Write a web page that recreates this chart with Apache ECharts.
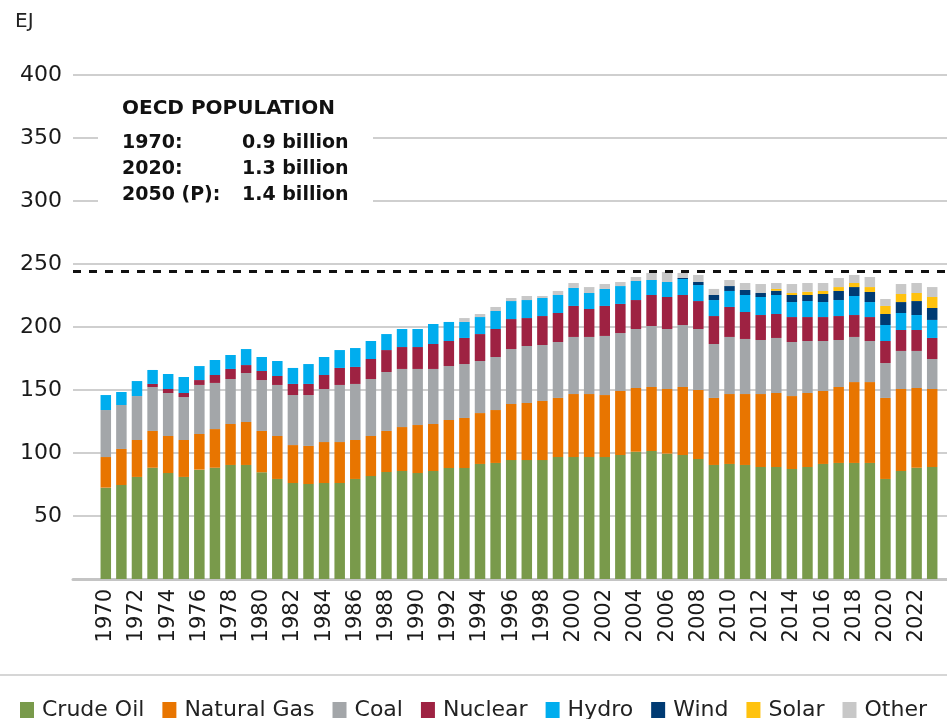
<!DOCTYPE html>
<html>
<head>
<meta charset="utf-8">
<script src="https://cdn.jsdelivr.net/npm/echarts@6/dist/echarts.min.js"></script>
<style>
  html, body { margin: 0; padding: 0; background: #fff; }
  #chart { width: 947px; height: 719px; }
</style>
</head>
<body>
<div id="chart"></div>
<script>
// years on the category axis
var years = ['1970','1971','1972','1973','1974','1975','1976','1977','1978','1979',
  '1980','1981','1982','1983','1984','1985','1986','1987','1988','1989',
  '1990','1991','1992','1993','1994','1995','1996','1997','1998','1999',
  '2000','2001','2002','2003','2004','2005','2006','2007','2008','2009',
  '2010','2011','2012','2013','2014','2015','2016','2017','2018','2019',
  '2020','2021','2022','2023'];

// EJ per source
var crudeOil = [72.5,74.6,81.0,88.3,84.1,81.0,86.8,88.3,90.5,90.5,
  84.7,79.4,76.2,75.4,76.2,76.2,79.4,81.7,84.9,85.7,
  84.1,85.7,88.1,88.1,91.3,92.1,94.4,94.4,94.4,96.8,
  96.8,96.8,96.8,98.4,101.0,101.6,99.5,98.4,95.2,90.5,
  91.3,90.5,88.9,88.9,87.3,88.9,91.3,92.1,92.1,92.1,
  79.4,85.7,88.3,88.9];
var naturalGas = [24.3,28.6,29.3,29.2,29.4,29.3,28.3,30.7,32.5,34.1,
  32.8,34.1,30.1,30.2,32.5,32.5,30.9,31.8,32.6,34.9,
  38.1,37.3,38.1,39.7,40.4,42.0,44.5,45.3,46.9,46.9,
  50.0,50.0,49.2,50.8,50.6,50.8,51.3,54.0,54.8,53.2,
  55.5,56.3,57.9,58.7,57.9,58.7,57.9,60.3,64.2,64.2,
  64.3,65.1,63.3,61.9];
var coal = [37.3,34.9,34.9,34.9,34.1,34.1,38.9,36.6,35.7,38.9,
  40.4,40.5,39.7,40.4,42.1,45.3,44.5,45.2,46.8,46.1,
  44.5,43.7,42.8,42.8,41.3,42.1,43.6,45.2,44.4,44.4,
  45.3,45.3,46.9,46.0,46.8,48.4,47.6,49.2,48.4,42.8,
  45.3,43.7,42.9,43.7,42.9,41.3,39.7,37.3,35.8,32.6,
  27.7,30.2,29.4,23.8];
var nuclear = [0,0,0,2.4,3.2,3.2,3.9,6.3,8.0,6.3,
  7.2,7.1,8.8,8.8,11.1,13.5,13.5,15.9,17.4,17.4,
  17.4,19.8,19.9,20.7,21.4,22.2,23.8,22.2,23.0,23.0,
  24.6,22.2,23.8,23.1,23.0,24.6,25.4,23.8,22.2,22.2,
  23.8,21.4,19.8,19.0,19.8,19.0,19.0,19.0,17.4,19.0,
  17.5,16.6,16.6,16.7];
var hydro = [11.9,10.3,11.9,11.1,11.9,12.7,11.1,11.9,11.1,12.7,
  11.1,11.9,12.7,15.8,14.3,14.2,15.0,14.3,12.7,14.3,
  14.3,15.9,15.1,12.7,13.5,14.3,14.3,14.3,14.3,14.3,
  14.3,12.7,13.5,14.2,15.1,11.9,11.9,12.7,12.7,12.7,
  12.7,13.5,14.3,15.1,11.9,12.7,11.9,12.7,15.1,11.9,
  12.7,13.5,11.9,14.3];
var wind = [0,0,0,0,0,0,0,0,0,0,
  0,0,0,0,0,0,0,0,0,0,
  0,0,0,0,0,0,0,0,0,0,
  0,0,0,0,0,0,0,0.8,2.4,4.0,
  3.9,4.0,3.2,3.4,5.6,4.8,6.4,7.2,7.1,8.0,
  8.7,8.7,11.1,9.5];
var solar = [0,0,0,0,0,0,0,0,0,0,
  0,0,0,0,0,0,0,0,0,0,
  0,0,0,0,0,0,0,0,0,0,
  0,0,0,0,0,0,0,0,0,0,
  0,0,0,1.4,1.6,2.6,2.4,3.1,3.2,3.9,
  6.4,6.4,6.4,8.7];
var other = [0,0,0,0,0,0,0,0,0,0,
  0,0,0,0,0,0,0,0,0,0,
  0,0,0,3.1,2.4,3.2,2.4,3.2,1.6,3.2,
  3.9,4.7,3.9,3.2,3.2,5.6,8.0,4.0,5.6,4.8,
  4.8,5.5,7.1,4.7,7.1,6.9,6.3,7.2,6.4,8.0,
  5.5,7.9,7.9,7.9];

// y axis ticks and the dashed reference level
var yTicks = [0, 50, 100, 150, 200, 250, 300, 350, 400];
var refLevel = 244;

var sources = [
  { name: 'Crude Oil', data: crudeOil, color: '#799a4b' },
  { name: 'Natural Gas', data: naturalGas, color: '#e87500' },
  { name: 'Coal', data: coal, color: '#a3a6a9' },
  { name: 'Nuclear', data: nuclear, color: '#9e2242' },
  { name: 'Hydro', data: hydro, color: '#00adee' },
  { name: 'Wind', data: wind, color: '#003b73' },
  { name: 'Solar', data: solar, color: '#ffc20e' },
  { name: 'Other', data: other, color: '#c8c8c8' }
];

var FONT = 'DejaVu Sans';
var chart = echarts.init(document.getElementById('chart'));

var series = sources.map(function (s) {
  return {
    name: s.name,
    type: 'bar',
    stack: 'total',
    xAxisIndex: 0,
    yAxisIndex: 0,
    barWidth: 10.5,
    itemStyle: { color: s.color },
    data: s.data
  };
});

// empty helper series on the background grid, carries the dashed line
series.push({
  type: 'line',
  xAxisIndex: 1,
  yAxisIndex: 1,
  data: [],
  silent: true,
  markLine: {
    symbol: 'none',
    silent: true,
    label: { show: false },
    lineStyle: { color: '#111', width: 3, type: [8, 8] },
    data: [{ yAxis: refLevel }]
  }
});

chart.setOption({
  animation: false,
  backgroundColor: '#fff',
  grid: [
    { left: 98, right: 7, top: 75, bottom: 140 },
    { left: 73, right: 0, top: 75, bottom: 140 }
  ],
  legend: {
    left: 15,
    top: 694,
    icon: 'rect',
    itemWidth: 14,
    itemHeight: 16,
    itemGap: 18,
    textStyle: { fontFamily: FONT, fontSize: 22, color: '#222', padding: [0, 0, 0, 3] },
    data: sources.map(function (s) { return s.name; })
  },
  xAxis: [
    {
      type: 'category',
      gridIndex: 0,
      data: years,
      axisLine: { show: false },
      axisTick: { show: false },
      axisLabel: {
        interval: 1,
        rotate: 90,
        margin: 10,
        fontFamily: FONT,
        fontSize: 21,
        color: '#1a1a1a'
      }
    },
    {
      type: 'value',
      gridIndex: 1,
      min: 0,
      max: 1,
      axisLine: { show: true, lineStyle: { color: '#c4c4c4', width: 3 } },
      axisTick: { show: false },
      axisLabel: { show: false },
      splitLine: { show: false }
    }
  ],
  yAxis: [
    {
      type: 'value',
      gridIndex: 0,
      min: yTicks[0],
      max: yTicks[yTicks.length - 1],
      interval: 50,
      axisLine: { show: false },
      axisTick: { show: false },
      axisLabel: { show: false },
      splitLine: { show: false }
    },
    {
      type: 'value',
      gridIndex: 1,
      min: yTicks[0],
      max: yTicks[yTicks.length - 1],
      interval: 50,
      axisLine: { show: false },
      axisTick: { show: false },
      axisLabel: {
        showMinLabel: false,
        margin: 11,
        fontFamily: FONT,
        fontSize: 22,
        color: '#1a1a1a'
      },
      splitLine: { show: true, lineStyle: { color: '#cfcfcf', width: 2 } }
    }
  ],
  graphic: [
    // unit
    { type: 'text', left: 15, top: 12, style: { text: 'EJ', fontFamily: FONT, fontSize: 20, fill: '#222' } },
    // population box (white backing hides the grid lines behind it)
    { type: 'rect', z: 10, shape: { x: 98, y: 88, width: 275, height: 160 }, style: { fill: '#fff' } },
    { type: 'text', z: 11, left: 122, top: 99, style: { text: 'OECD POPULATION', fontFamily: FONT, fontWeight: 'bold', fontSize: 20, fill: '#111' } },
    { type: 'text', z: 11, left: 122, top: 134, style: { text: '1970:', fontFamily: FONT, fontWeight: 'bold', fontSize: 19, fill: '#111' } },
    { type: 'text', z: 11, left: 242, top: 134, style: { text: '0.9 billion', fontFamily: FONT, fontWeight: 'bold', fontSize: 19, fill: '#111' } },
    { type: 'text', z: 11, left: 122, top: 160, style: { text: '2020:', fontFamily: FONT, fontWeight: 'bold', fontSize: 19, fill: '#111' } },
    { type: 'text', z: 11, left: 242, top: 160, style: { text: '1.3 billion', fontFamily: FONT, fontWeight: 'bold', fontSize: 19, fill: '#111' } },
    { type: 'text', z: 11, left: 122, top: 186, style: { text: '2050 (P):', fontFamily: FONT, fontWeight: 'bold', fontSize: 19, fill: '#111' } },
    { type: 'text', z: 11, left: 242, top: 186, style: { text: '1.4 billion', fontFamily: FONT, fontWeight: 'bold', fontSize: 19, fill: '#111' } },
    // separator above the legend
    { type: 'line', shape: { x1: 0, y1: 675, x2: 947, y2: 675 }, style: { stroke: '#d6d6d6', lineWidth: 2 } }
  ],
  series: series
});
</script>
</body>
</html>
